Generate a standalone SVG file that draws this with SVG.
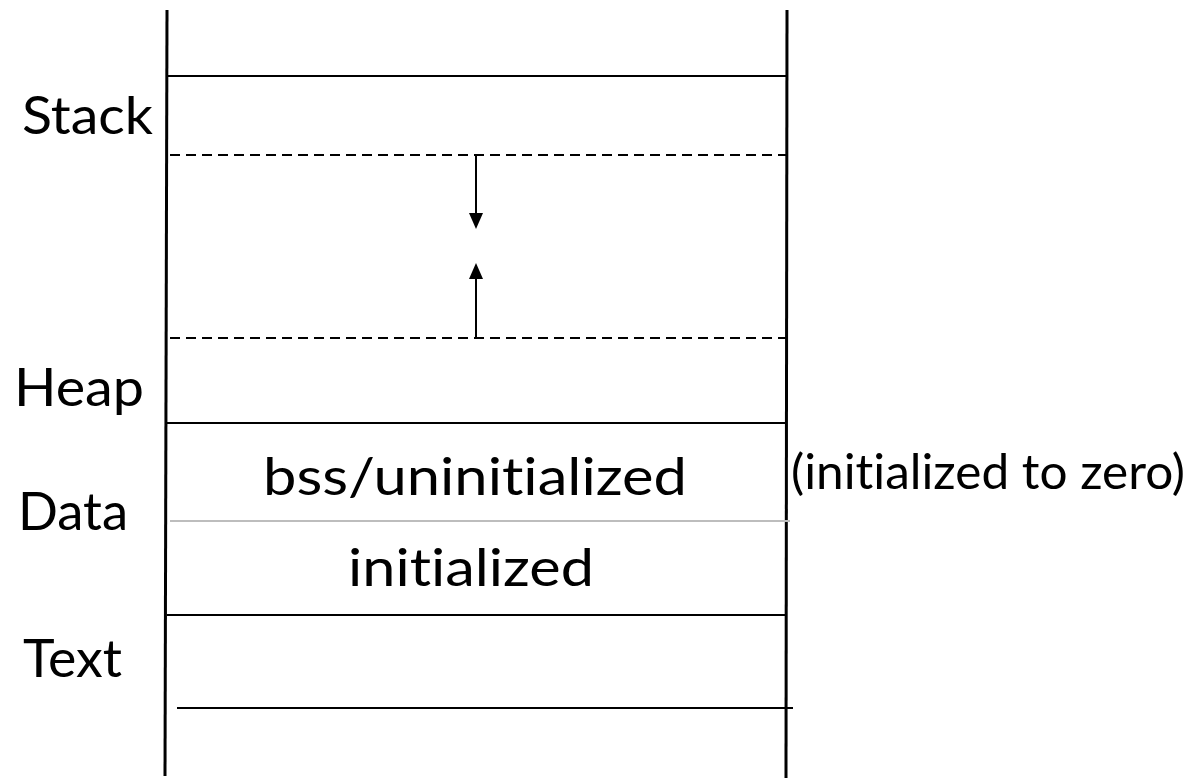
<svg xmlns="http://www.w3.org/2000/svg" width="1198" height="782" viewBox="0 0 1198 782">
  <defs>
    <style>
      .frame { stroke: #000; stroke-width: 3; fill: none; }
      .rule { stroke: #000; stroke-width: 2.2; fill: none; }
      .dash { stroke: #000; stroke-width: 2; stroke-dasharray: 10 6; fill: none; }
      .soft { stroke: #bdbdbd; stroke-width: 2; fill: none; }
      .shaft { stroke: #000; stroke-width: 2; fill: none; }
      .head { fill: #000; stroke: none; }
      .label { font-family: "Lato", "Open Sans", sans-serif; font-size: 52px; fill: #000; font-variant-ligatures: none; font-feature-settings: "liga" 0, "clig" 0; }
      .note { font-size: 48px; }
    </style>
  </defs>

  <!-- outer walls of the memory column -->
  <g id="walls">
    <line class="frame" x1="167" y1="10" x2="165" y2="776"/>
    <line class="frame" x1="787" y1="10" x2="786" y2="778"/>
  </g>

  <!-- segment boundaries -->
  <g id="boundaries">
    <line class="rule" x1="167" y1="76" x2="787" y2="76"/>
    <line class="dash" x1="170" y1="155" x2="787" y2="155"/>
    <line class="dash" x1="170" y1="338" x2="787" y2="338"/>
    <line class="rule" x1="167" y1="423" x2="787" y2="423"/>
    <line class="soft" x1="170" y1="521" x2="790" y2="521"/>
    <line class="rule" x1="167" y1="615" x2="787" y2="615"/>
    <line class="rule" x1="177" y1="708" x2="793" y2="708"/>
  </g>

  <!-- growth directions of stack and heap -->
  <g id="connectors">
    <line class="shaft" x1="476" y1="155" x2="476" y2="215"/>
    <polygon class="head" points="469,213 483,213 476,229"/>
    <line class="shaft" x1="476" y1="338" x2="476" y2="277"/>
    <polygon class="head" points="469,279 483,279 476,263"/>
  </g>

  <g id="stack"><text class="label" x="22" y="134" textLength="131" lengthAdjust="spacingAndGlyphs">Stack</text></g>
  <g id="heap"><text class="label" x="14" y="406" textLength="130" lengthAdjust="spacingAndGlyphs">Heap</text></g>
  <g id="data"><text class="label" x="18" y="530" textLength="110" lengthAdjust="spacingAndGlyphs">Data</text></g>
  <g id="text"><text class="label" x="23" y="677" textLength="99" lengthAdjust="spacingAndGlyphs">Text</text></g>
  <g id="bss"><text class="label" x="263" y="495" textLength="424" lengthAdjust="spacingAndGlyphs">bss/uninitialized</text></g>
  <g id="initialized"><text class="label" x="348" y="586" textLength="246" lengthAdjust="spacingAndGlyphs">initialized</text></g>
  <g id="zero-note"><text class="label note" x="791" y="489" textLength="394" lengthAdjust="spacingAndGlyphs">(initialized to zero)</text></g>
</svg>
